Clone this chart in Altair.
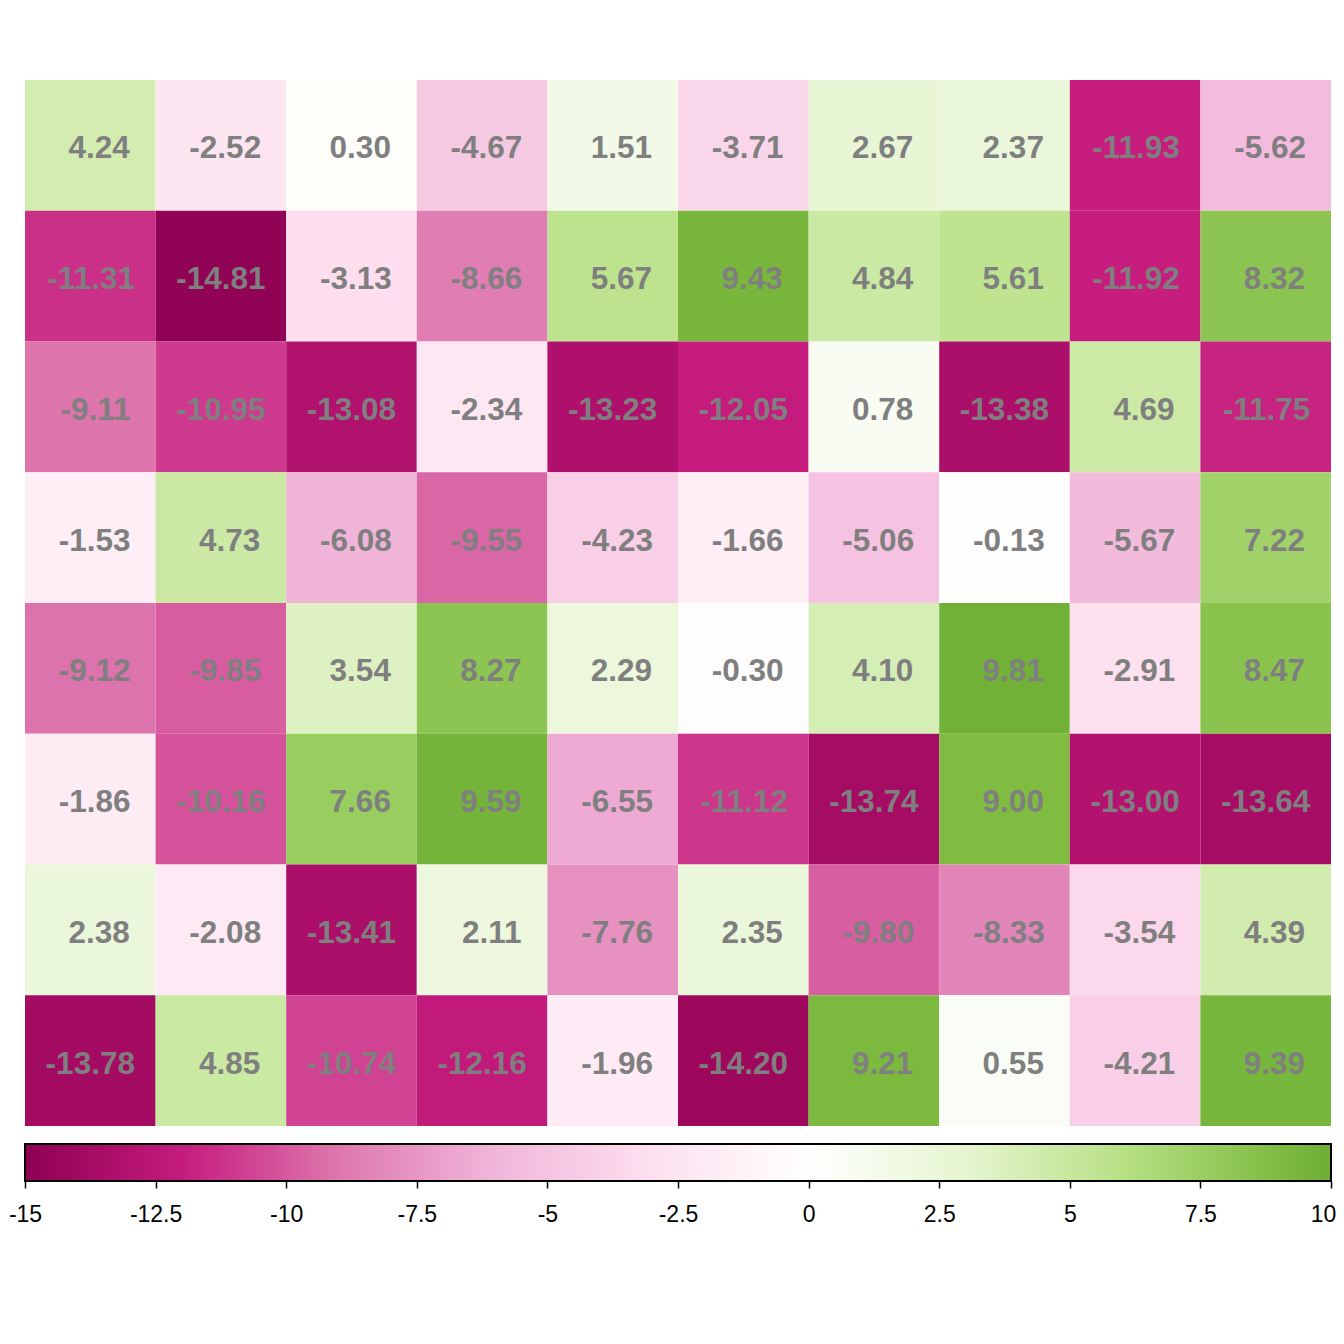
import altair as alt
import pandas as pd

# ---- data (rows top to bottom, columns left to right) ----
ROWS = [
    [4.24, -2.52, 0.30, -4.67, 1.51, -3.71, 2.67, 2.37, -11.93, -5.62],
    [-11.31, -14.81, -3.13, -8.66, 5.67, 9.43, 4.84, 5.61, -11.92, 8.32],
    [-9.11, -10.95, -13.08, -2.34, -13.23, -12.05, 0.78, -13.38, 4.69, -11.75],
    [-1.53, 4.73, -6.08, -9.55, -4.23, -1.66, -5.06, -0.13, -5.67, 7.22],
    [-9.12, -9.85, 3.54, 8.27, 2.29, -0.30, 4.10, 9.81, -2.91, 8.47],
    [-1.86, -10.16, 7.66, 9.59, -6.55, -11.12, -13.74, 9.00, -13.00, -13.64],
    [2.38, -2.08, -13.41, 2.11, -7.76, 2.35, -9.80, -8.33, -3.54, 4.39],
    [-13.78, 4.85, -10.74, -12.16, -1.96, -14.20, 9.21, 0.55, -4.21, 9.39],
]
TICK_VALUES = [-15, -12.5, -10, -7.5, -5, -2.5, 0, 2.5, 5, 7.5, 10]
COLOR_DOMAIN = [-15, -12, -9, -6, -3, 0, 3, 6, 9, 12]
COLOR_RANGE = ["#8e0152", "#c51b7d", "#de77ae", "#f1b6da", "#fde0ef",
               "#ffffff", "#e6f5d0", "#b8e186", "#7fbc41", "#4d9221"]

FONT = "Liberation Sans"
LABEL_SIZE = 31.5

records = []
for r, row in enumerate(ROWS, start=1):
    for c, v in enumerate(row, start=1):
        lab = f"{v:.2f}"
        records.append({"row": r, "col": c, "value": v, "label": lab, "nch": len(lab)})
df = pd.DataFrame(records)

color_scale = alt.Scale(domain=COLOR_DOMAIN, range=COLOR_RANGE, interpolate="rgb")

base = alt.Chart(df).encode(
    x=alt.X("col:O", axis=None, scale=alt.Scale(paddingInner=0, paddingOuter=0)),
    y=alt.Y("row:O", axis=None, scale=alt.Scale(paddingInner=0, paddingOuter=0)),
)
rects = base.mark_rect(strokeWidth=0).encode(
    color=alt.Color("value:Q", scale=color_scale, legend=None)
)

# labels are space-padded to 6 characters and centred (as in R's format());
# reproduce that by right-aligning each label at half the padded width.
EM = {"d": 0.556, "-": 0.333, ".": 0.278, " ": 0.278}


def padded_half_width(n):
    sample = {4: "  0.00", 5: " -0.00", 6: "-00.00"}[n]
    return LABEL_SIZE * sum(EM["d" if ch.isdigit() else ch] for ch in sample) / 2


text_layers = []
for n in sorted(df["nch"].unique()):
    text_layers.append(
        base.transform_filter(f"datum.nch == {int(n)}").mark_text(
            font=FONT, fontWeight="bold", fontSize=LABEL_SIZE, color="#7f7f7f",
            align="right", baseline="middle", dx=round(padded_half_width(int(n)), 2),
            dy=4,
        ).encode(text="label:N")
    )

heat = alt.layer(rects, *text_layers).properties(width=1306, height=1046)

# ---- colour bar ----
lo, hi = TICK_VALUES[0], TICK_VALUES[-1]


def hex_to_rgb(h):
    h = h.lstrip("#")
    return [int(h[i:i + 2], 16) for i in (0, 2, 4)]


stops = []
for d, col in zip(COLOR_DOMAIN, COLOR_RANGE):
    if lo <= d <= hi:
        stops.append(alt.GradientStop(color=col, offset=(d - lo) / (hi - lo)))
# colour at the upper end of the bar, from the palette
for i in range(len(COLOR_DOMAIN) - 1):
    if COLOR_DOMAIN[i] <= hi <= COLOR_DOMAIN[i + 1]:
        t = (hi - COLOR_DOMAIN[i]) / (COLOR_DOMAIN[i + 1] - COLOR_DOMAIN[i])
        a, b = hex_to_rgb(COLOR_RANGE[i]), hex_to_rgb(COLOR_RANGE[i + 1])
        endc = "#" + "".join(f"{round(a[k] + (b[k] - a[k]) * t):02x}" for k in range(3))
        stops.append(alt.GradientStop(color=endc, offset=1.0))
        break

bar_df = pd.DataFrame({"lo": [lo], "hi": [hi]})
bar = alt.Chart(bar_df).mark_rect(
    color=alt.Gradient(gradient="linear", stops=stops, x1=0, x2=1, y1=0, y2=0),
    stroke="black", strokeWidth=2,
).encode(
    x=alt.X("lo:Q", scale=alt.Scale(domain=[lo, hi], nice=False, zero=False),
            axis=alt.Axis(values=TICK_VALUES, title=None, domain=False,
                          grid=False, ticks=True, tickSize=7, tickWidth=1.5,
                          tickColor="black", labelColor="black", labelFont=FONT,
                          labelFontSize=23, labelPadding=15,
                          labelOffset={"condition": {"test": f"datum.value == {hi}",
                                                     "value": -8},
                                       "value": 0},
                          labelExpr="datum.value + ''", labelFlush=False,
                          labelOverlap=False)),
    x2="hi:Q",
    y=alt.value(0),
    y2=alt.value(37),
).properties(width=1306, height=37)

chart = alt.vconcat(heat, bar, spacing=17).properties(
    padding={"left": 0, "top": 72, "right": 0, "bottom": 10}
).configure_view(stroke=None)

chart.save("out.html", embed_options={"renderer": "svg", "actions": False})
